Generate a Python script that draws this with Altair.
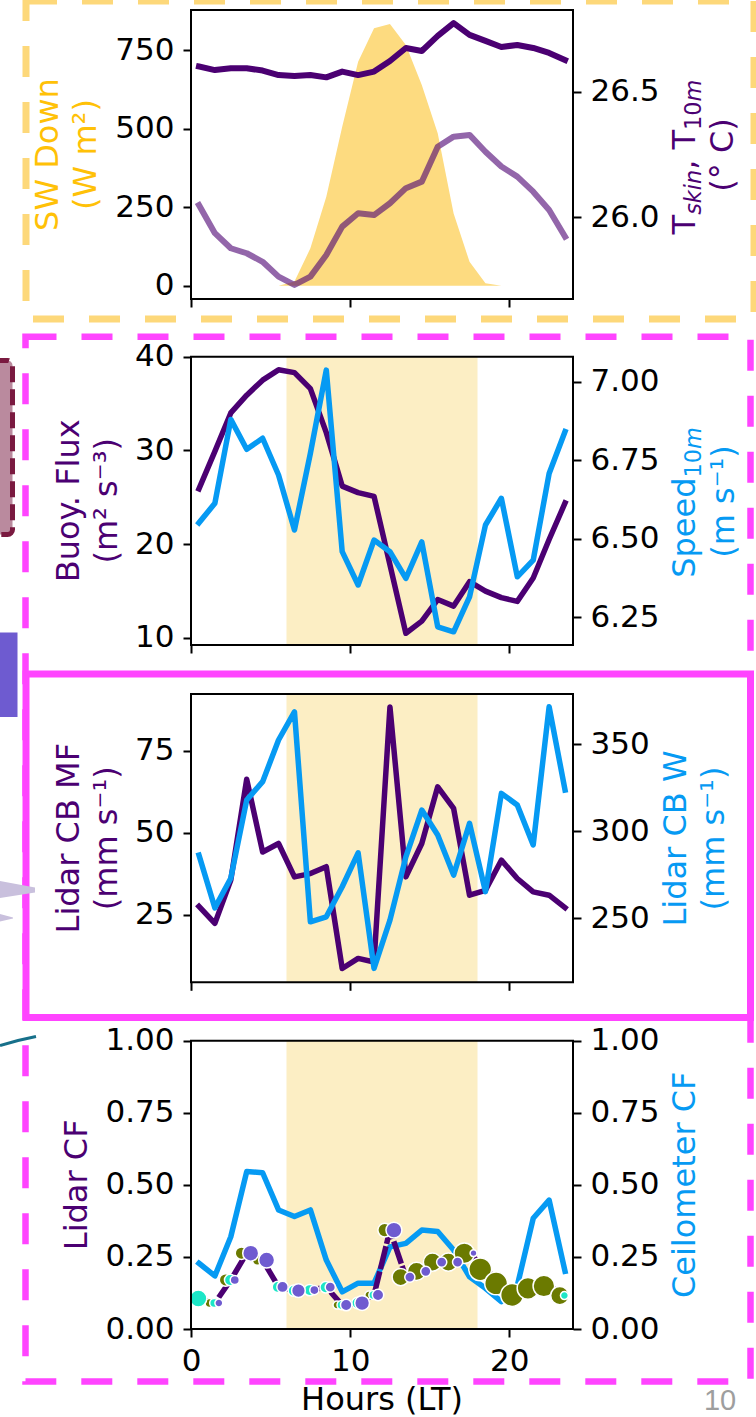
import altair as alt
import pandas as pd

# ---------------------------------------------------------------- data
hours = [0.5, 1.5, 2.5, 3.5, 4.5, 5.5, 6.5, 7.5, 8.5, 9.5, 10.5, 11.5,
         12.5, 13.5, 14.5, 15.5, 16.5, 17.5, 18.5, 19.5, 20.5, 21.5, 22.5, 23.5]

sw_down = [0, 0, 0, 0, 0, 0, 13, 119, 283, 506, 713, 819,
           833, 766, 639, 485, 230, 76, 8, 0, 0, 0, 0, 0]
t_skin = [26.600, 26.586, 26.593, 26.593, 26.584, 26.566, 26.562, 26.566,
          26.557, 26.580, 26.566, 26.580, 26.622, 26.674, 26.662, 26.722,
          26.773, 26.726, 26.702, 26.678, 26.686, 26.674, 26.654, 26.626]
t_10m = [26.049, 25.937, 25.877, 25.857, 25.823, 25.764, 25.731, 25.764,
         25.850, 25.963, 26.016, 26.009, 26.056, 26.116, 26.142, 26.281,
         26.321, 26.328, 26.261, 26.202, 26.162, 26.102, 26.029, 25.923]

buoy_flux = [25.9, 29.9, 34.0, 35.9, 37.5, 38.6, 38.3, 36.6, 31.9, 26.2, 25.5, 25.1,
             17.8, 10.5, 11.8, 14.1, 13.4, 16.0, 15.0, 14.3, 13.9, 16.4, 20.5, 24.4]
speed_10m = [6.551, 6.613, 6.880, 6.785, 6.820, 6.703, 6.528, 6.772, 7.037, 6.459,
             6.353, 6.496, 6.459, 6.374, 6.490, 6.220, 6.204, 6.315, 6.544, 6.629,
             6.379, 6.432, 6.708, 6.841]

lidar_cb_mf = [27.5, 22.3, 35.5, 66.3, 44.1, 46.7, 36.5, 37.5, 39.6, 8.5, 11.6, 10.5,
               88.4, 36.5, 46.7, 64.0, 57.4, 30.9, 32.4, 41.6, 36.0, 31.9, 30.9, 27.1]
lidar_cb_w = [286.3, 256.0, 273.0, 317.9, 328.4, 352.3, 368.5, 248.0, 250.9, 268.1,
              287.6, 221.3, 249.0, 285.3, 312.1, 297.8, 274.8, 304.5, 265.3, 321.7,
              315.0, 292.1, 371.4, 323.6]

ceilometer_cf = [0.228, 0.184, 0.320, 0.546, 0.542, 0.413, 0.390, 0.413, 0.239, 0.129,
                 0.159, 0.159, 0.285, 0.297, 0.343, 0.338, 0.274, 0.181, 0.141, 0.095,
                 0.150, 0.384, 0.447, 0.200]
lidar_cf = [0.106, 0.090, 0.170, 0.263, 0.239, 0.146, 0.133, 0.135, 0.145, 0.083,
            0.090, 0.118, 0.343, 0.180, 0.200, 0.232, 0.232, 0.263, 0.207, 0.158,
            0.118, 0.141, 0.149, 0.116]

# relative share of each cloud group per hour (drives marker area)
share_a = [0, 0.16, 0.30, 0.30, 0.20, 0, 0, 0, 0, 0.12, 0, 0.12,
           0.36, 0.56, 0.64, 0.64, 0.64, 0.81, 1.0, 1.0, 1.0, 0.90, 0.90, 0.64]
share_b = [0.56, 0.16, 0.25, 0, 0, 0.25, 0.25, 0.25, 0.25, 0.16, 0.25, 0.16,
           0, 0, 0, 0, 0, 0, 0, 0, 0, 0, 0, 0.12]
share_c = [0, 0.12, 0.16, 0.49, 0.49, 0.25, 0.36, 0.16, 0.20, 0.25, 0.42, 0.25,
           0.49, 0.20, 0.20, 0.20, 0.20, 0.09, 0, 0, 0, 0, 0, 0]

daylight = [6, 18]

df = pd.DataFrame({
    "hour": hours, "sw": sw_down, "t_skin": t_skin, "t_10m": t_10m,
    "buoy": buoy_flux, "speed": speed_10m, "mf": lidar_cb_mf, "w": lidar_cb_w,
    "ceil": ceilometer_cf, "lidar": lidar_cf,
})
day_df = pd.DataFrame({"start": [daylight[0]], "end": [daylight[1]]})
one = pd.DataFrame({"k": [0]})

group_offset = {"a": -0.33, "b": -0.04, "c": 0.25}
rows = []
for i, h in enumerate(hours):
    for key, shares in (("a", share_a), ("b", share_b), ("c", share_c)):
        if shares[i] > 0:
            rows.append({"hx": h + group_offset[key], "cf": lidar_cf[i],
                         "share": shares[i], "kind": key})
marks_df = pd.DataFrame(rows)

# ---------------------------------------------------------------- layout / style
W, H = 756, 1417
X0, X1 = 191, 573
PANEL = {1: (10, 299), 2: (356.7, 645), 3: (694, 982.3), 4: (1040.7, 1329)}
FONT = "DejaVu Sans"
PURPLE = "#4B0072"
BLUE = "#069AF3"
GOLD = "#FFC107"
SWFILL = "#FDDB80"
DAY = "#FCEEC4"
MAGENTA = "#FF44FF"
YELLOW_EDGE = "#FDD87A"
OLIVE = "#6B7A00"
TURQ = "#1CE6C7"
SLATE = "#6F5BD0"

xscale = alt.Scale(domain=[0, 24], range=[X0, X1], nice=False, zero=False)


def x_axis(panel, labels):
    return alt.Axis(orient="bottom", offset=PANEL[panel][1] - H, values=[0, 10, 20],
                    format="d", labels=labels, labelFlush=False, domain=False, grid=False,
                    tickSize=8, tickWidth=2, tickColor="black",
                    labelFont=FONT, labelFontSize=31, labelColor="black", labelPadding=9)


def y_axis(side, values, fmt):
    off = -X0 if side == "left" else X1 - W
    return alt.Axis(orient=side, offset=off, values=values, format=fmt, labelFlush=False,
                    domain=False, grid=False, tickSize=8, tickWidth=2, tickColor="black",
                    labelFont=FONT, labelFontSize=31, labelColor="black", labelPadding=9)


def yscale(panel, domain):
    top, bottom = PANEL[panel]
    return alt.Scale(domain=domain, range=[bottom, top], nice=False, zero=False)


def xenc(field="hour", axis=None):
    return alt.X(f"{field}:Q", scale=xscale, axis=axis, title=None)


def band(panel):
    top, bottom = PANEL[panel]
    return alt.Chart(day_df).mark_rect(color=DAY).encode(
        x=alt.X("start:Q", scale=xscale, axis=None), x2="end:Q",
        y=alt.value(top), y2=alt.value(bottom))


def frame(panel):
    top, bottom = PANEL[panel]
    return alt.Chart(one).mark_rect(fillOpacity=0, stroke="black", strokeWidth=2).encode(
        x=alt.value(X0), x2=alt.value(X1), y=alt.value(top), y2=alt.value(bottom))


def line(field, panel, domain, color, axis=None, xaxis=None, width=5.5, **kw):
    return alt.Chart(df).mark_line(color=color, strokeWidth=width, strokeCap="square",
                                   strokeJoin="round", **kw).encode(
        x=xenc(axis=xaxis),
        y=alt.Y(f"{field}:Q", scale=yscale(panel, domain), axis=axis, title=None))


def label(lines, x, y, color, size=32, **kw):
    return alt.Chart(one).mark_text(angle=270, align="center", baseline="alphabetic",
                                    font=FONT, fontSize=size, color=color,
                                    lineHeight=38, **kw).encode(
        x=alt.value(x), y=alt.value(y), text=alt.value(lines))


ADV = {"T": .611, "s": .521, "k": .579, "i": .278, "n": .634, ",": .318, " ": .318,
       "1": .636, "0": .636, "m": .974, "S": .635, "p": .635, "e": .615, "d": .635}


def sub_label(runs, base_x, center_y, color):
    """Rotated title built from runs of (text, size, style, baseline shift)."""
    widths = [sum(ADV[c] for c in t) * s for t, s, _, _ in runs]
    y = center_y + sum(widths) / 2
    out = []
    for (t, s, style, shift), wd in zip(runs, widths):
        out.append(alt.Chart(one).mark_text(text=t, angle=270, align="left",
                                            baseline="alphabetic", font=FONT, fontSize=s,
                                            fontStyle=style, color=color).encode(
            x=alt.value(base_x + shift), y=alt.value(y)))
        y -= wd
    return out


SW_DOM = [-42.3, 877.3]
T_DOM = [25.675, 26.825]
BF_DOM = [9.25, 40.0]
SP_DOM = [6.162, 7.0796]
MF_DOM = [4.3, 92.35]
W_DOM = [213.3, 378.7]
CF_DOM = [0, 1]

# ---------------------------------------------------------------- decorations
deco = [
    alt.Chart(one).mark_rect(fillOpacity=0, stroke=YELLOW_EDGE, strokeWidth=7,
                             strokeDash=[31, 25]).encode(
        x=alt.value(26), x2=alt.value(754), y=alt.value(1), y2=alt.value(319)),
    alt.Chart(one).mark_rect(fillOpacity=0, stroke=MAGENTA, strokeWidth=6.5,
                             strokeDash=[31, 25]).encode(
        x=alt.value(25.5), x2=alt.value(750.5), y=alt.value(336.7), y2=alt.value(1381.5)),
    alt.Chart(one).mark_rect(fillOpacity=0, stroke=MAGENTA, strokeWidth=7).encode(
        x=alt.value(26), x2=alt.value(750.5), y=alt.value(674), y2=alt.value(1017.5)),
    alt.Chart(one).mark_rect(fill="#BA8A9E", stroke="#7A1A40", strokeWidth=5,
                             strokeDash=[16, 7], cornerRadius=5).encode(
        x=alt.value(-12), x2=alt.value(12.5), y=alt.value(360.5), y2=alt.value(534.5)),
    alt.Chart(one).mark_rect(fill="#6E5BD0").encode(
        x=alt.value(-2), x2=alt.value(17.5), y=alt.value(632.5), y2=alt.value(717)),
    alt.Chart(pd.DataFrame({"px": [0, 35], "py": [881, 887.5], "py2": [898, 892.5]}))
    .mark_area(color="#C9C0DD").encode(
        x=alt.X("px:Q", scale=None), y=alt.Y("py:Q", scale=None),
        y2="py2:Q"),
    alt.Chart(pd.DataFrame({"px": [0, 13], "py": [914, 917.5], "py2": [921.5, 918.5]}))
    .mark_area(color="#C9C0DD").encode(
        x=alt.X("px:Q", scale=None), y=alt.Y("py:Q", scale=None),
        y2="py2:Q"),
    alt.Chart(pd.DataFrame({"px": [0, 18, 36], "py": [1045.5, 1040.5, 1036.5]}))
    .mark_line(color="#17708A", strokeWidth=3).encode(
        x=alt.X("px:Q", scale=None), y=alt.Y("py:Q", scale=None)),
]

# ---------------------------------------------------------------- panel 1
p1 = [
    alt.Chart(df).mark_area(color=SWFILL).encode(
        x=xenc(axis=x_axis(1, False)),
        y=alt.Y("sw:Q", scale=yscale(1, SW_DOM),
                axis=y_axis("left", [0, 250, 500, 750], "d"), title=None),
        y2=alt.datum(0)),
    line("t_10m", 1, T_DOM, PURPLE, width=6, opacity=0.6),
    line("t_skin", 1, T_DOM, PURPLE, width=6,
         axis=y_axis("right", [26.0, 26.5], ".1f")),
    frame(1),
]

# ---------------------------------------------------------------- panel 2
p2 = [
    band(2),
    line("buoy", 2, BF_DOM, PURPLE, axis=y_axis("left", [10, 20, 30, 40], "d"),
         xaxis=x_axis(2, False)),
    line("speed", 2, SP_DOM, BLUE,
         axis=y_axis("right", [6.25, 6.5, 6.75, 7.0], ".2f")),
    frame(2),
]

# ---------------------------------------------------------------- panel 3
p3 = [
    band(3),
    line("mf", 3, MF_DOM, PURPLE, axis=y_axis("left", [25, 50, 75], "d"),
         xaxis=x_axis(3, False)),
    line("w", 3, W_DOM, BLUE, axis=y_axis("right", [250, 300, 350], "d")),
    frame(3),
]

# ---------------------------------------------------------------- panel 4
cf_ticks = [0, 0.25, 0.5, 0.75, 1.0]
p4 = [
    band(4),
    line("ceil", 4, CF_DOM, BLUE, axis=y_axis("right", cf_ticks, ".2f"),
         xaxis=x_axis(4, True)),
    line("lidar", 4, CF_DOM, PURPLE, axis=y_axis("left", cf_ticks, ".2f"),
         strokeDash=[18, 8]),
]
for kind, col in (("a", OLIVE), ("b", TURQ), ("c", SLATE)):
    p4.append(
        alt.Chart(marks_df).transform_filter(alt.datum.kind == kind)
        .mark_circle(color=col, opacity=1, stroke="white", strokeWidth=1.5).encode(
            x=xenc("hx"),
            y=alt.Y("cf:Q", scale=yscale(4, CF_DOM), axis=None, title=None),
            size=alt.Size("share:Q", scale=alt.Scale(domain=[0, 1], range=[0, 520]),
                          legend=None)))
p4.append(frame(4))

# ---------------------------------------------------------------- axis titles
titles = [
    label(["SW Down", "(W m²)"], 58, 154.5, GOLD),
    *sub_label([("T", 32, "normal", 0), ("skin", 22.4, "italic", 6),
                (", T", 32, "normal", 0), ("10", 22.4, "normal", 6),
                ("m", 22.4, "italic", 6)], 695, 157, PURPLE),
    label(["(° C)"], 733, 155, PURPLE),
    label(["Buoy. Flux", "(m² s⁻³)"], 79, 500.8, PURPLE),
    *sub_label([("Speed", 32, "normal", 0), ("10", 22.4, "normal", 6),
                ("m", 22.4, "italic", 6)], 695, 502.5, BLUE),
    label(["(m s⁻¹)"], 734, 501.5, BLUE),
    label(["Lidar CB MF", "(mm s⁻¹)"], 79, 838.2, PURPLE),
    label(["Lidar CB W", "(mm s⁻¹)"], 686, 838.5, BLUE),
    label(["Lidar CF"], 87, 1184.8, PURPLE),
    label(["Ceilometer CF"], 695, 1184.8, BLUE),
    alt.Chart(one).mark_text(align="center", baseline="alphabetic", font=FONT,
                             fontSize=32, color="black").encode(
        x=alt.value(382), y=alt.value(1410), text=alt.value("Hours (LT)")),
    alt.Chart(one).mark_text(align="center", baseline="alphabetic", font="Liberation Sans",
                             fontSize=29, color="#9E9E9E").encode(
        x=alt.value(720), y=alt.value(1410), text=alt.value("10")),
]

chart = alt.layer(*deco, *p1, *p2, *p3, *p4, *titles).resolve_scale(
    x="independent", y="independent"
).properties(
    width=W, height=H, padding=0, background="white",
    autosize=alt.AutoSizeParams(type="none"),
).configure_view(strokeWidth=0)

chart.save("out.html", embed_options={"renderer": "svg", "actions": False})
